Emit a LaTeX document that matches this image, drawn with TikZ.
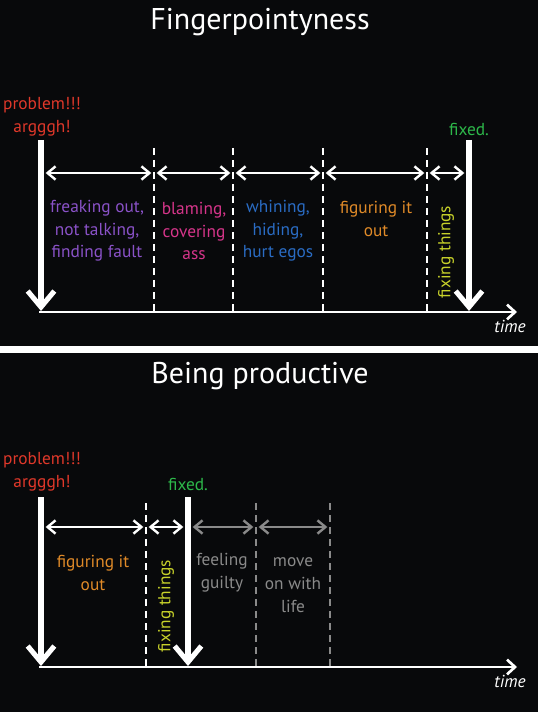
\documentclass[tikz,border=0pt]{standalone}
\usepackage{fontspec}
\setmainfont{PT Sans}
\usetikzlibrary{arrows.meta}
\definecolor{bg}{HTML}{08090B}
\definecolor{cred}{HTML}{E0382A}
\definecolor{cgreen}{HTML}{2DB84A}
\definecolor{cpurple}{HTML}{8A52C8}
\definecolor{cmag}{HTML}{D6358A}
\definecolor{cblue}{HTML}{2A6CC4}
\definecolor{corange}{HTML}{E08A28}
\definecolor{cyellow}{HTML}{C8D22A}
\definecolor{cgray}{HTML}{8A8A8A}
\begin{document}
\begin{tikzpicture}[x=0.75pt,y=-0.75pt,
  bigarrow/.style={draw=white, line width=3.8pt, -{Straight Barb[length=12pt,width=20pt]}},
  axis/.style={draw=white, line width=2pt, -{Straight Barb[length=6pt,width=11pt]}},
  span/.style={draw=#1, line width=1.8pt, {Straight Barb[length=6pt,width=10pt]}-{Straight Barb[length=6pt,width=10pt]}, shorten <=2pt, shorten >=2pt},
  span/.default=white,
  divider/.style={draw=#1, line width=2.2pt, dash pattern=on 5.5pt off 3.5pt},
  divider/.default=white,
  title/.style={text=white, font=\fontsize{22.5}{26}\selectfont, anchor=base},
  lbl/.style={text=#1, font=\fontsize{13}{17}\selectfont, align=center, inner sep=0pt},
  timelbl/.style={text=white, font=\fontsize{13}{15}\selectfont\itshape, inner sep=0pt}
]
\useasboundingbox (0,0) rectangle (538,712);
\fill[bg] (0,0) rectangle (538,712);
\fill[white] (0,346) rectangle (538,353);

% ---------- top panel ----------
\node[title] (t1) at (260,30) {Fingerpointyness};
\node[lbl=cred] (p1) at (42,117) {problem!!!\\argggh!};
\node[lbl=cgreen] (f1) at (469,129) {fixed.};

\coordinate (a1s) at (41,140);  \coordinate (a1e) at (41,311);
\coordinate (a2s) at (469,140); \coordinate (a2e) at (469,311);
\coordinate (x1s) at (39,312);  \coordinate (x1e) at (517,312);
\foreach \n/\x in {d1/154,d2/233,d3/323,d4/427}{
  \coordinate (\n t) at (\x,148);
  \coordinate (\n b) at (\x,312);
  \coordinate (\n m) at (\x,173);
}
\coordinate (l1m) at (43,173);
\coordinate (r1m) at (467,173);

\draw[divider] (d1t) -- (d1b);
\draw[divider] (d2t) -- (d2b);
\draw[divider] (d3t) -- (d3b);
\draw[divider] (d4t) -- (d4b);

\draw[span] (l1m) -- (d1m);
\draw[span] (d1m) -- (d2m);
\draw[span] (d2m) -- (d3m);
\draw[span] (d3m) -- (d4m);
\draw[span] (d4m) -- (r1m);

\draw[axis] (x1s) -- (x1e);
\draw[bigarrow] (a1s) -- (a1e);
\draw[bigarrow] (a2s) -- (a2e);

\node[lbl=cpurple] (s1) at (97,231) {freaking out,\\not talking,\\finding fault};
\node[lbl=cmag] (s2) at (194,231) {blaming,\\covering\\ass};
\node[lbl=cblue] (s3) at (278,231) {whining,\\hiding,\\hurt egos};
\node[lbl=corange] (s4) at (376,219) {figuring it\\out};
\node[lbl=cyellow, rotate=90] (s5) at (446,252) {fixing things};
\node[timelbl] (tm1) at (510,326) {time};

% ---------- bottom panel ----------
\node[title] (t2) at (260,383) {Being productive};
\node[lbl=cred] (p2) at (42,472) {problem!!!\\argggh!};
\node[lbl=cgreen] (f2) at (188,484) {fixed.};

\coordinate (b1s) at (41,497);  \coordinate (b1e) at (41,666);
\coordinate (b2s) at (188,497); \coordinate (b2e) at (188,666);
\coordinate (x2s) at (39,667);  \coordinate (x2e) at (517,667);
\foreach \n/\x in {e1/146,e2/256,e3/330}{
  \coordinate (\n t) at (\x,503);
  \coordinate (\n b) at (\x,667);
  \coordinate (\n m) at (\x,527);
}
\coordinate (l2m) at (43,527);
\coordinate (r2m) at (186,527);
\coordinate (r3m) at (190,527);

\draw[divider] (e1t) -- (e1b);
\draw[divider=cgray] (e2t) -- (e2b);
\draw[divider=cgray] (e3t) -- (e3b);

\draw[span] (l2m) -- (e1m);
\draw[span] (e1m) -- (r2m);
\draw[span=cgray] (r3m) -- (e2m);
\draw[span=cgray] (e2m) -- (e3m);

\draw[axis] (x2s) -- (x2e);
\draw[bigarrow] (b1s) -- (b1e);
\draw[bigarrow] (b2s) -- (b2e);

\node[lbl=corange] (u1) at (93,573) {figuring it\\out};
\node[lbl=cyellow, rotate=90] (u2) at (166,606) {fixing things};
\node[lbl=cgray] (u3) at (222,573) {feeling\\guilty};
\node[lbl=cgray] (u4) at (293,585) {move\\on with\\life};
\node[timelbl] (tm2) at (510,681) {time};
\end{tikzpicture}
\end{document}
